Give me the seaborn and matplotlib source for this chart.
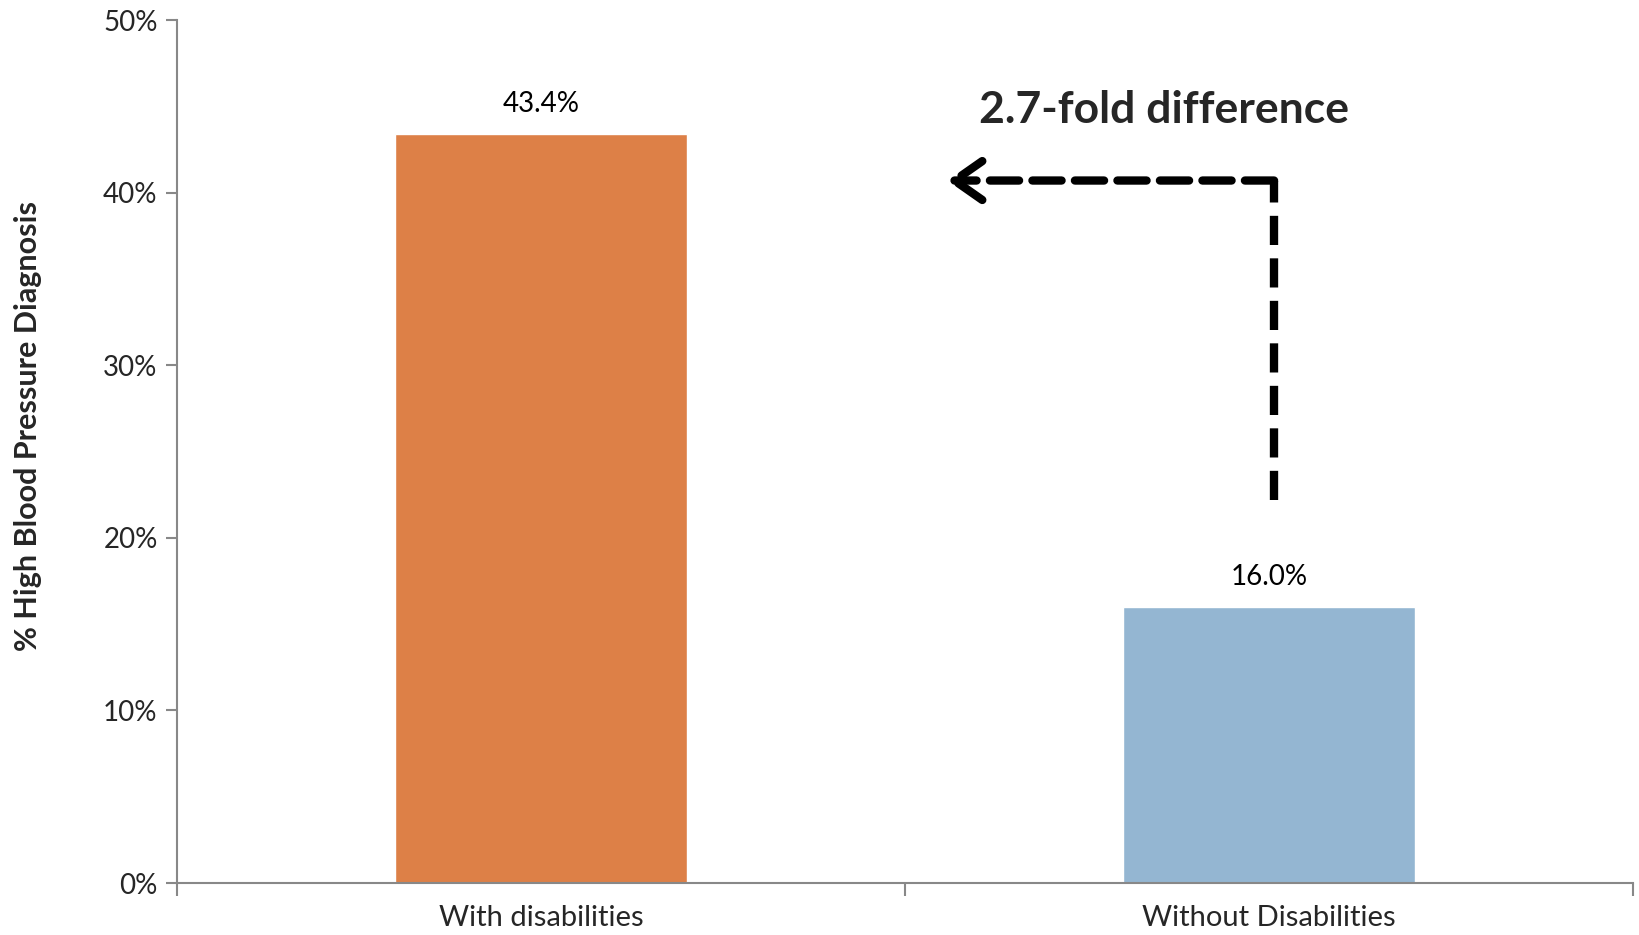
import numpy as np
import matplotlib.pyplot as plt
import pandas as pd
import seaborn as sns
import matplotlib.ticker as mtick

# chart data
groups = ["With disabilities", "Without Disabilities"]
pct_high_bp = [43.4, 16.0]
bar_colors = ["#DD8047", "#94B6D2"]
y_ticks = [0, 10, 20, 30, 40, 50]
fold_text = "2.7-fold difference"

df = pd.DataFrame({"group": groups, "pct": pct_high_bp})

sns.set_theme(style="white")
plt.rcParams['font.family'] = ['Lato', 'DejaVu Sans']

fig = plt.figure(figsize=(16.4, 9.35), dpi=100)
ax = fig.add_axes([0.108, 0.0556, 0.8877, 0.923])

sns.barplot(data=df, x="group", y="pct", hue="group", palette=bar_colors,
            width=0.401, legend=False, ax=ax, saturation=1)

# value labels above bars
for i, v in enumerate(pct_high_bp):
    ax.text(i, v + 1.0, f"{v:.1f}%", ha="center", va="bottom", fontsize=20, color="black")

ax.set_xlim(-0.5, 1.5)
ax.set_ylim(0, 50)
ax.set_yticks(y_ticks)
ax.yaxis.set_major_formatter(mtick.PercentFormatter(decimals=0))
ax.tick_params(axis="y", labelsize=20, length=8, width=1.5, color="#888888", direction="out", left=True, pad=6)
ax.tick_params(axis="x", which="major", labelsize=21, length=0, pad=16)
ax.set_xticks([-0.5, 0.5, 1.5], minor=True)
ax.tick_params(axis="x", which="minor", length=9, width=1.5, color="#888888", direction="out", bottom=True)

ax.set_xlabel("")
ax.set_ylabel("% High Blood Pressure Diagnosis", fontsize=22, fontweight="bold")
ax.yaxis.set_label_coords(-0.093, 0.53)

for side in ["top", "right"]:
    ax.spines[side].set_visible(False)
for side in ["left", "bottom"]:
    ax.spines[side].set_color("#888888")
    ax.spines[side].set_linewidth(1.5)

# dashed elbow arrow from the lower bar to the taller one
ax.plot([1.007, 1.007], [22.2, 40.7], color="black", lw=6, ls=(0, (3.5, 1.6)), solid_capstyle="butt")
ax.annotate("", xy=(0.558, 40.7), xytext=(1.007, 40.7),
            arrowprops=dict(arrowstyle="->,head_length=0.5,head_width=0.35", color="black", lw=6,
                            ls=(0, (3.5, 1.6)), mutation_scale=40, shrinkA=0, shrinkB=0))

ax.text(0.856, 44.8, fold_text, ha="center", va="center", fontsize=32, fontweight="bold")

plt.savefig("out.png", dpi=100)
